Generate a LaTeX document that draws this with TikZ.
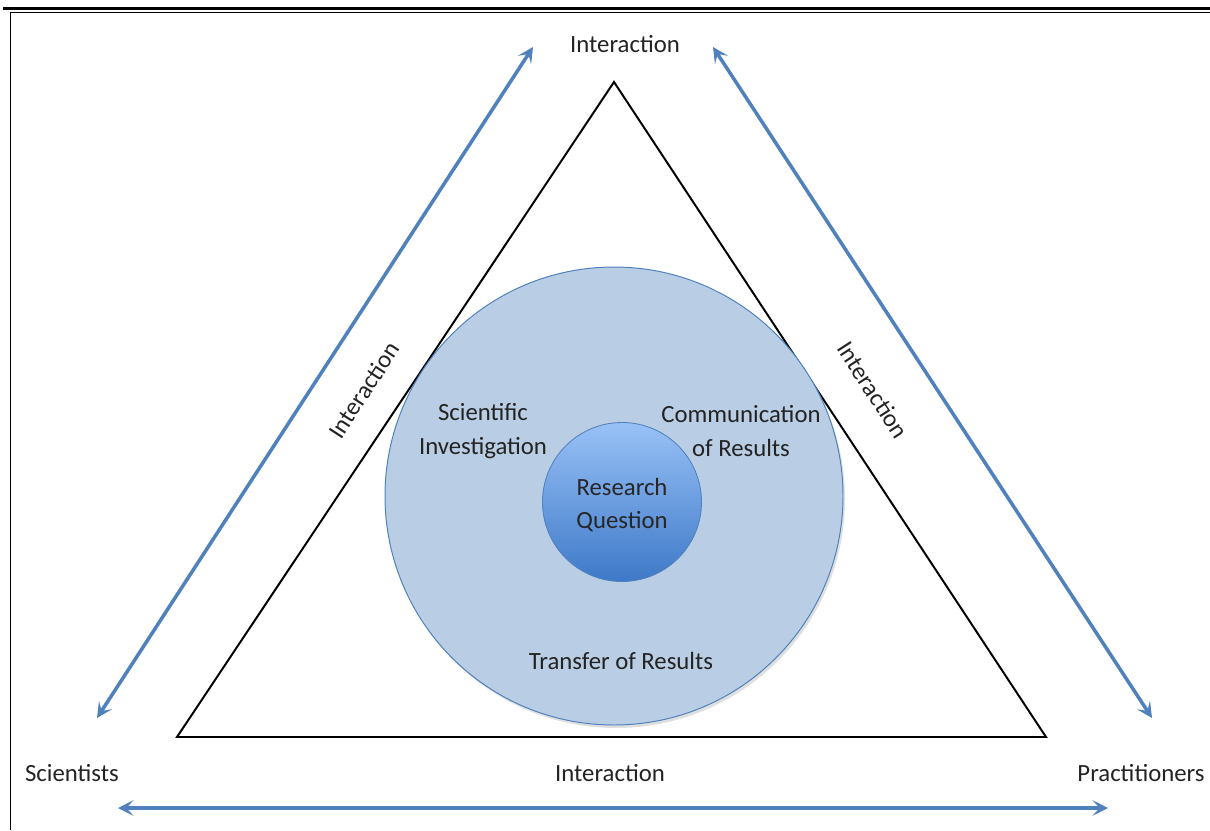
\documentclass[tikz,border=0pt]{standalone}
\usepackage{fontspec}
\setmainfont{Carlito}
\usepackage{tikz}
\usetikzlibrary{arrows.meta,calc}
\definecolor{officeblue}{RGB}{79,129,189}
\definecolor{paleblue}{RGB}{185,205,228}
\definecolor{qtop}{RGB}{152,193,246}
\definecolor{qbot}{RGB}{62,121,200}
\definecolor{textgray}{RGB}{35,35,35}

\tikzset{
  lbl/.style={text=textgray,font=\fontsize{17.6}{24}\selectfont,align=center,inner sep=0pt},
  link/.style={officeblue,line width=2.5pt,{Stealth[length=11pt,width=11pt,inset=5pt]}-{Stealth[length=11pt,width=11pt,inset=5pt]}}
}

\begin{document}
\begin{tikzpicture}[x=0.025cm,y=-0.025cm]
  \useasboundingbox (0,0) rectangle (1210,830);

  %% frame
  \draw[line width=2.2pt] (3,8.5) -- (1210,8.5);
  \draw[line width=0.8pt] (10,12.5) -- (1210,12.5);
  \draw[line width=0.8pt] (10.5,12.5) -- (10.5,830);

  %% triangle
  \coordinate (apex) at (614,82);
  \coordinate (bl) at (177,737);
  \coordinate (br) at (1046,737);
  \draw[line width=1.4pt,line join=miter] (apex) -- (bl) -- (br) -- cycle;

  %% circles
  \fill[black!25,opacity=0.5] (616,499) circle (229);
  \draw[officeblue,fill=paleblue,line width=0.7pt] (614,496) circle (229);
  \shade[top color=qtop,bottom color=qbot,draw=officeblue,line width=0.6pt]
    (622,502) circle (79.5);

  %% labels
  \node[lbl,text=black!85] (rq) at (622,505) {Research\\Question};
  \node[lbl] (inv) at (483,431) {Scientific\\Investigation};
  \node[lbl] (com) at (741,431) {Communication\\of Results};
  \node[lbl] (tra) at (621,661) {Transfer of Results};

  \foreach \n/\x/\y/\t in {sci/72/773/Scientists,
                           pra/1141/773/Practitioners,
                           itop/625/44/Interaction,
                           ibot/610/773/Interaction}{
    \node[lbl] (\n) at (\x,\y) {\t};
  }
  \node[lbl,rotate=57] (ileft) at (364,390) {Interaction};
  \node[lbl,rotate=-57] (iright) at (873,390) {Interaction};

  %% interaction arrows
  \coordinate (la) at (97,718);
  \coordinate (lb) at (533,47);
  \coordinate (ra) at (713,47);
  \coordinate (rb) at (1152,718);
  \coordinate (ba) at (118,808);
  \coordinate (bb) at (1108,808);
  \draw[link] (la) -- (lb);
  \draw[link] (ra) -- (rb);
  \draw[link] (ba) -- (bb);

\end{tikzpicture}
\end{document}
